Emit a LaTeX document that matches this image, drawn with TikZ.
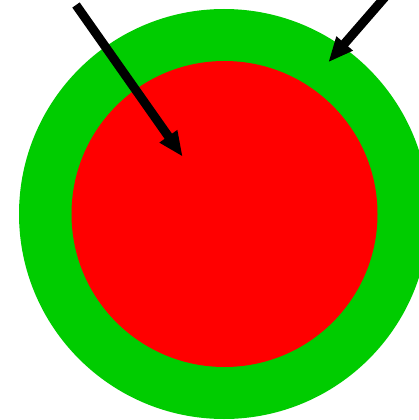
\documentclass[tikz,border=0pt]{standalone}
\usetikzlibrary{arrows.meta}
\definecolor{ringgreen}{RGB}{0,204,0}
\definecolor{discred}{RGB}{255,0,0}
\tikzset{
  pointer/.style={draw=black, line width=9pt,
    -{Triangle[length=25pt,width=20pt]}},
}
\begin{document}
\begin{tikzpicture}[x=1pt,y=-1pt]
\useasboundingbox (0,0) rectangle (419,420);
\clip (0,0) rectangle (419,420);
\node[circle, fill=ringgreen, minimum size=410pt, inner sep=0pt] (outer) at (224,214) {};
\node[circle, fill=discred, minimum size=306pt, inner sep=0pt] (inner) at (224.5,214) {};
\coordinate (s1) at (76,5);
\coordinate (t1) at (182.7,156.7);
\coordinate (s2) at (392,-11);
\coordinate (t2) at (328.3,62.3);
\draw[pointer] (s1) -- (t1);
\draw[pointer] (s2) -- (t2);
\end{tikzpicture}
\end{document}
